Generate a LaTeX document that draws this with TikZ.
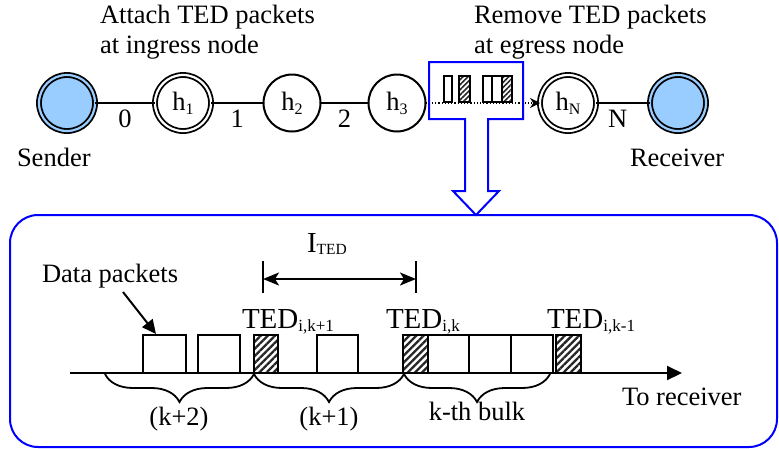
\documentclass[tikz,border=0pt]{standalone}
\usepackage{fontspec}
\setmainfont{Liberation Serif}
\usetikzlibrary{arrows.meta,decorations.pathreplacing,patterns.meta}
\definecolor{bblue}{RGB}{0,0,255}
\definecolor{sblue}{RGB}{153,204,255}
\newcommand\lowsub[3]{\raisebox{-#2}{\fontsize{#1}{#1}\selectfont #3}}
\begin{document}
\begin{tikzpicture}[x=1pt,y=-1pt,
  every node/.style={font=\fontsize{26.5}{30}\selectfont, inner sep=0pt, outer sep=0pt},
  host/.style={circle, draw, line width=2pt, minimum size=57pt},
  dhost/.style={circle, draw, line width=1.8pt, double, double distance=2.2pt, minimum size=56pt},
  term/.style={dhost, fill=sblue, double=sblue},
  lnk/.style={line width=2pt},
  elab/.style={below=7pt},
  pkt/.style={draw, line width=2pt, anchor=south west, minimum height=38pt},
  tedpkt/.style={pkt, pattern={Lines[angle=45,distance=5pt,line width=2.3pt]}, pattern color=black!85},
  spkt/.style={draw, line width=1.5pt, anchor=south west, minimum height=26pt},
  stedpkt/.style={spkt, pattern={Lines[angle=45,distance=3.6pt,line width=1.6pt]}, pattern color=black!85},
  big/.style={font=\fontsize{29}{32}\selectfont},
  callout/.style={draw=bblue, line width=2pt}
]
\useasboundingbox (0,0) rectangle (779,448);

% top row of hosts
\node[term] (snd) at (67,103) {};
\node[dhost] (h1) at (183,103) {h\lowsub{16pt}{4pt}{1}};
\node[host] (h2) at (292,103) {h\lowsub{16pt}{4pt}{2}};
\node[host] (h3) at (397,103) {h\lowsub{16pt}{4pt}{3}};
\node[dhost] (hN) at (568,103) {h\lowsub{16pt}{4pt}{N}};
\node[term] (rcv) at (678,103) {};

\node[anchor=base west] (lsnd) at (17,166) {Sender};
\node[anchor=base west] (lrcv) at (630,166) {Receiver};
\node[anchor=north west, align=left] (attach) at (100,5) {Attach TED packets\\at ingress node};
\node[anchor=north west, align=left] (remove) at (474,5) {Remove TED packets\\at egress node};

\draw[lnk] (snd) -- node[elab] (l0) {0} (h1);
\draw[lnk] (h1) -- node[elab] (l1) {1} (h2);
\draw[lnk] (h2) -- node[elab] (l2) {2} (h3);
\draw[lnk] (hN) -- node[elab, pos=0.4] (lN) {N} (rcv);
\draw[dotted, line width=1.2pt, -{Stealth[length=10pt,width=10pt]}] (h3) -- (hN);

% small packets in the callout
\node[spkt, minimum width=8pt] (sp1) at (444,102) {};
\node[stedpkt, minimum width=11pt] (st1) at (459,102) {};
\node[spkt, minimum width=9pt] (sp2) at (483,102) {};
\node[spkt, minimum width=10pt] (sp3) at (492,102) {};
\node[stedpkt, minimum width=10pt] (st2) at (502,102) {};

% callout box with arrow
\draw[callout] (429,62) -- (523,62) -- (523,119) -- (488,119) -- (488,191) -- (499,191)
  -- (476,215) -- (453,191) -- (465,191) -- (465,119) -- (429,119) -- cycle;

% lower panel
\draw[callout, rounded corners=28pt] (10,215) rectangle (777,447);

\coordinate (a0) at (70,373);
\coordinate (a1) at (682,373);
\draw[line width=2pt, -{Triangle[length=15pt,width=14pt]}] (a0) -- (a1);

\node[pkt, minimum width=43pt] (p1) at (143,373) {};
\node[pkt, minimum width=42pt] (p2) at (198,373) {};
\node[tedpkt, minimum width=24pt] (t1) at (254,373) {};
\node[pkt, minimum width=41pt] (p3) at (317,373) {};
\node[tedpkt, minimum width=25pt] (t2) at (403,373) {};
\node[pkt, minimum width=41pt] (p4) at (428,373) {};
\node[pkt, minimum width=42pt] (p5) at (469,373) {};
\node[pkt, minimum width=42pt] (p6) at (511,373) {};
\node[tedpkt, minimum width=25pt] (t3) at (556,373) {};

\node[big, anchor=base west] (ted1) at (242,328) {TED\lowsub{17pt}{3pt}{i,k+1}};
\node[big, anchor=base west] (ted2) at (386,328) {TED\lowsub{17pt}{3pt}{i,k}};
\node[big, anchor=base west] (ted3) at (547,328) {TED\lowsub{17pt}{3pt}{i,k-1}};

% interval
\coordinate (b1t) at (263,261); \coordinate (b1b) at (263,293);
\coordinate (b2t) at (416,261); \coordinate (b2b) at (416,293);
\draw[line width=2pt] (b1t) -- (b1b);
\draw[line width=2pt] (b2t) -- (b2b);
\coordinate (i1) at (263,279); \coordinate (i2) at (416,279);
\draw[line width=2pt, {Stealth[length=16pt,width=13pt,inset=4pt]}-{Stealth[length=16pt,width=13pt,inset=4pt]}] (i1) -- (i2);
\node[big, anchor=base west] (ited) at (307,252) {I\lowsub{15.5pt}{2pt}{TED}};

% data packets label
\node[anchor=base west] (dp) at (42,282) {Data packets};
\coordinate (dpa) at (123,292);
\coordinate (dpt) at (156,334);
\draw[line width=2pt, -{Triangle[length=14pt,width=13pt]}] (dpa) -- (dpt);

% braces
\draw[line width=1.8pt, decorate, decoration={brace, mirror, amplitude=28pt}] (105,374) -- (254,374);
\draw[line width=1.8pt, decorate, decoration={brace, mirror, amplitude=28pt}] (254,374) -- (404,374);
\draw[line width=1.8pt, decorate, decoration={brace, mirror, amplitude=28pt}] (404,374) -- (550,374);
\node[anchor=base] (bk2) at (179,425) {(k+2)};
\node[anchor=base] (bk1) at (329,425) {(k+1)};
\node[anchor=base] (bk0) at (477,420) {k-th bulk};
\node[anchor=base west] (torcv) at (622,405) {To receiver};
\end{tikzpicture}
\end{document}
